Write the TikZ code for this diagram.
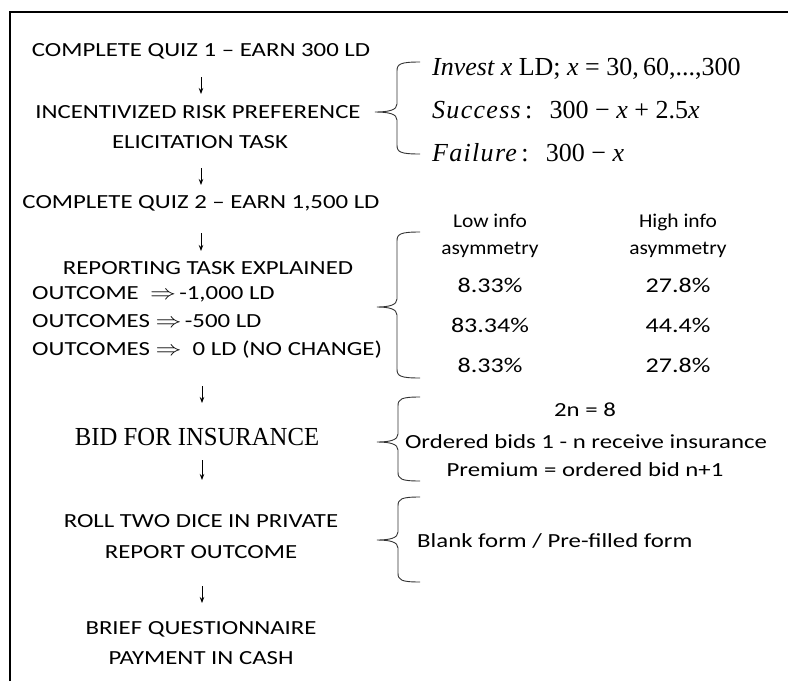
\documentclass[tikz,border=0pt]{standalone}
\usepackage{fontspec}
\setmainfont{Carlito}[FakeStretch=1.24]
\newfontfamily\hdr{Carlito}[FakeStretch=1.1]
\newfontfamily\tnr{Liberation Serif}
\newfontfamily\tnrbid{Liberation Serif}[FakeStretch=0.95]
\usetikzlibrary{arrows.meta}
\tikzset{
  lab/.style={inner sep=0pt, font=\fontsize{20}{24}\selectfont, anchor=base},
  tlab/.style={inner sep=0pt, font=\tnr\fontsize{26}{30}\selectfont, anchor=base},
  rlab/.style={inner sep=0pt, font=\fontsize{20}{24}\selectfont, anchor=base},
  hlab/.style={inner sep=0pt, font=\hdr\fontsize{19.5}{24}\selectfont, anchor=base},
  plab/.style={inner sep=0pt, font=\fontsize{21}{24}\selectfont, anchor=base},
  arr/.style={line width=0.9pt, -{Stealth[length=6pt,width=4.5pt]}},
  brace/.style={line width=0.9pt, black!80},
  frame/.style={line width=2pt}
}
\newcommand{\wideit}[1]{{\addfontfeatures{LetterSpace=5}\itshape #1}}
\newcommand{\imp}{\scalebox{1.25}[1]{$\Rightarrow$}}
% brace: tip x, vertical x, end x, top y, mid y, bottom y
\newcommand{\mybrace}[6]{%
  \draw[brace] (#3,#4) .. controls (#2+3,#4) and (#2,#4+2) .. (#2,#4+9) -- (#2,#5-8)
    .. controls (#2,#5-2) and (#2-8,#5) .. (#1,#5)
    .. controls (#2-8,#5) and (#2,#5+2) .. (#2,#5+8) -- (#2,#6-9)
    .. controls (#2,#6-2) and (#2+3,#6) .. (#3,#6);}
\begin{document}
\begin{tikzpicture}[x=1pt,y=-1pt]
\useasboundingbox (0,0) rectangle (788,681);
\draw[frame] (10,681) -- (10,12) -- (788,12);

% left flow
\node[lab] (q1) at (201,56) {COMPLETE QUIZ 1 – EARN 300 LD};
\node[lab] (irp) at (198,118) {INCENTIVIZED RISK PREFERENCE};
\node[lab] (elt) at (200,148) {ELICITATION TASK};
\node[lab] (q2) at (201,208) {COMPLETE QUIZ 2 – EARN 1,500 LD};
\node[lab] (rep) at (208,274) {REPORTING TASK EXPLAINED};
\node[lab, anchor=base west] (o1) at (32,299) {OUTCOME\ \ \imp\,-1,000 LD};
\node[lab, anchor=base west] (o2) at (32,327) {OUTCOMES \imp\,-500 LD};
\node[lab, anchor=base west] (o3) at (32,355) {OUTCOMES \imp\ \ 0 LD (NO CHANGE)};
\node[tlab, font=\tnrbid\fontsize{26}{30}\selectfont] (bid) at (197,445) {BID FOR INSURANCE};
\node[lab] (roll) at (201,527) {ROLL TWO DICE IN PRIVATE};
\node[lab] (ro) at (201,558) {REPORT OUTCOME};
\node[lab] (bq) at (201,634) {BRIEF QUESTIONNAIRE};
\node[lab] (pay) at (201,664) {PAYMENT IN CASH};

% arrows
\coordinate (a1s) at (201,77);  \coordinate (a1e) at (201,94);
\coordinate (a2s) at (201,168); \coordinate (a2e) at (201,185);
\coordinate (a3s) at (201,233); \coordinate (a3e) at (201,251);
\coordinate (a4s) at (202,386); \coordinate (a4e) at (202,403);
\coordinate (a5s) at (202,460); \coordinate (a5e) at (202,480);
\coordinate (a6s) at (202,586); \coordinate (a6e) at (202,603);
\draw[arr] (a1s) -- (a1e);
\draw[arr] (a2s) -- (a2e);
\draw[arr] (a3s) -- (a3e);
\draw[arr] (a4s) -- (a4e);
\draw[arr] (a5s) -- (a5e);
\draw[arr] (a6s) -- (a6e);

% braces
\mybrace{375}{397}{420}{62}{112}{154}
\mybrace{377}{397}{420}{232}{307}{378}
\mybrace{377}{398}{420}{397}{442}{481}
\mybrace{377}{398}{420}{497}{540}{582}

% brace 1 texts
\node[tlab, anchor=base west] (inv) at (432,75) {\textit{Invest x} LD; \textit{x} = 30,\,60,...,300};
\node[tlab, anchor=base west] (suc) at (432,118) {\wideit{Success}\,:\ \ \,300 − \textit{x} + 2.5\textit{x}};
\node[tlab, anchor=base west] (fai) at (432,161) {\wideit{Failure}\,:\ \ \,300 − \textit{x}};

% brace 2 texts
\node[hlab] (lo1) at (490,227) {Low info};
\node[hlab] (lo2) at (490,254) {asymmetry};
\node[hlab] (hi1) at (678,227) {High info};
\node[hlab] (hi2) at (678,254) {asymmetry};
\node[plab] (p11) at (490,292) {8.33\%};
\node[plab] (p12) at (678,292) {27.8\%};
\node[plab] (p21) at (490,332) {83.34\%};
\node[plab] (p22) at (678,332) {44.4\%};
\node[plab] (p31) at (490,372) {8.33\%};
\node[plab] (p32) at (678,372) {27.8\%};

% brace 3 texts
\node[rlab] (tn) at (585,416) {2n = 8};
\node[rlab] (ob) at (586,448) {Ordered bids 1 - n receive insurance};
\node[rlab] (pr) at (585,476) {Premium = ordered bid n+1};

% brace 4 text
\node[rlab, anchor=base west] (bf) at (417,547) {Blank form / Pre-filled form};
\end{tikzpicture}
\end{document}
